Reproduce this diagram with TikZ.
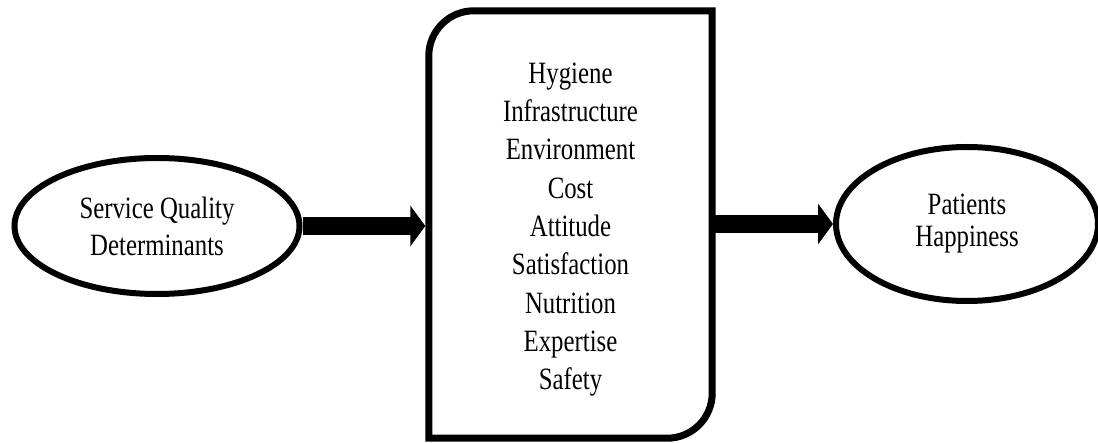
\documentclass[tikz,border=0pt]{standalone}
\usepackage{fontspec}
\setmainfont{Liberation Serif}[FakeStretch=0.8]
\usetikzlibrary{arrows.meta,shapes.geometric}
\tikzset{
  outcome/.style={draw=black,ellipse,line width=6pt,inner sep=0pt,align=center,font=\fontsize{31}{37}\selectfont},
  factorbox/.style={inner sep=0pt,minimum width=283pt,minimum height=427pt},
  factorlist/.style={inner sep=0pt,align=center,font=\fontsize{31}{38.3}\selectfont},
  boxline/.style={draw=black,line width=7pt},
  arr/.style={-{Triangle[width=40pt,length=15pt]},line width=18pt,draw=black}
}

\begin{document}
\begin{tikzpicture}[x=1pt,y=-1pt]
    \fill[white] (0,0) rectangle (1098,443);
    \useasboundingbox (0,0) rectangle (1098,443);
    \node[outcome,minimum width=285pt,minimum height=136pt] (quality) at (157,226) {Service Quality\\Determinants};
    \node[factorbox] (factors) at (570.5,224.5) {};
    \node[factorlist] (list) at ([yshift=-5pt]factors.center) {Hygiene\\Infrastructure\\Environment\\Cost\\Attitude\\Satisfaction\\Nutrition\\Expertise\\Safety};
    \node[outcome,minimum width=262pt,minimum height=154pt,font=\fontsize{31}{32}\selectfont] (happiness) at (967,224) {Patients\\Happiness};
    % outline of the middle box, rounded only top left and bottom right
    \draw[boxline] (factors.south west) -- ([yshift=-45pt]factors.north west)
      arc[start angle=180,end angle=90,radius=45pt] -- (factors.north east)
      -- ([yshift=45pt]factors.south east)
      arc[start angle=0,end angle=-90,radius=45pt] -- cycle;
    \draw[arr,shorten >=3.5pt] (quality.east) -- (quality.east -| factors.west);
    \draw[arr] (factors.east |- happiness.west) -- (happiness.west);
  \end{tikzpicture}
\end{document}
